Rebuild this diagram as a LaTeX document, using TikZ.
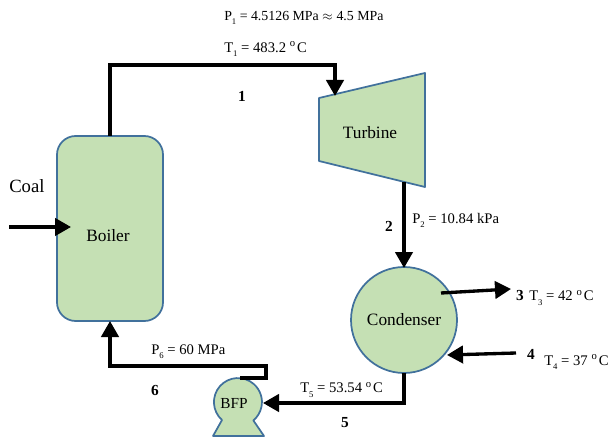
\documentclass[tikz,border=0pt]{standalone}
\usepackage{fontspec}
\setmainfont{Liberation Serif}
\usepackage{unicode-math}
\setmathfont{Latin Modern Math}
\setmathrm{Liberation Serif}
\usetikzlibrary{arrows.meta}
\definecolor{fillgreen}{RGB}{197,224,180}
\definecolor{edgeblue}{RGB}{65,113,156}
\newcommand{\sdeg}{\raisebox{0.75ex}{\footnotesize o}\kern1.5pt}
\newcommand{\lowsub}[1]{\raisebox{-0.6ex}{\fontsize{6.5}{7}\selectfont #1}}
\tikzset{
	unit/.style={draw=edgeblue,fill=fillgreen,line width=1.3pt},
	pipe/.style={draw=black,line width=2.5pt},
	flow/.style={pipe,-{Triangle[width=13pt,length=12pt]}},
	txt/.style={inner sep=0pt,font=\fontsize{11}{13}\selectfont},
	unittxt/.style={inner sep=0pt,font=\fontsize{13}{15}\selectfont},
	statenum/.style={inner sep=0pt,font=\fontsize{11.5}{13}\selectfont\bfseries}
}
\begin{document}
\begin{tikzpicture}[x=0.75pt,y=0.75pt,yscale=-1,xscale=1]
	\useasboundingbox (0,0) rectangle (609,438);
	% Boiler
	\node (boiler) [unit,rounded corners=14pt,minimum width=79.5pt,minimum height=138.75pt,inner sep=0pt] at (110,228.5) {};
	\node (boilerlabel) [unittxt] at (108,236) {Boiler};
	% Turbine
	\draw [unit,line join=round] (319,98) -- (425,73) -- (425,187) -- (319,161) -- cycle;
	\node (turbine) [unittxt] at (370,133) {Turbine};
	% Condenser
	\node (condenser) [unit,circle,minimum size=79.5pt,inner sep=0pt,unittxt] at (404,320) {Condenser};
	% BFP
	\draw [unit,line join=round] (222,420) arc[start angle=131.6,end angle=410,radius=24] -- (264,436) -- (213,436) -- cycle;
	\node (bfp) [inner sep=0pt,font=\fontsize{11.5}{13}\selectfont] at (234,403) {BFP};

	% Free ends
	\coordinate (boilerout) at (110,136);
	\coordinate (turbinein) at (335,96);
	\coordinate (turbineout) at (404,182);
	\coordinate (condin) at (404,268);
	\coordinate (condout) at (404,373);
	\coordinate (bfpin) at (263,403);
	\coordinate (bfpout) at (240,378);
	\coordinate (boilerin) at (110,321);
	\coordinate (coalstart) at (9,227);
	\coordinate (coalend) at (71,227);
	\coordinate (threestart) at (441,293);
	\coordinate (threeend) at (511,289);
	\coordinate (fourstart) at (516,353);
	\coordinate (fourend) at (447,355);

	% Pipes
	\draw [flow] (boilerout) |- (110,65) -| (turbinein);
	\draw [flow] (turbineout) -- (condin);
	\draw [flow] (condout) |- (bfpin);
	\draw [flow] (bfpout) -- (266,378) -- (266,366) -- (110,366) -- (boilerin);
	\draw [flow] (coalstart) -- (coalend);
	\draw [flow] (threestart) -- (threeend);
	\draw [flow] (fourstart) -- (fourend);

	% Text Node
	\node (pone) [txt,anchor=west,font=\fontsize{10.4}{13}\selectfont] at (224,18) {P\lowsub{1} = 4.5126 MPa $\approx$ 4.5 MPa};
	\node (tone) [txt,anchor=west] at (224,49) {T\lowsub{1} = 483.2 \sdeg C};
	\node (ptwo) [txt,anchor=west] at (412,220) {P\lowsub{2} = 10.84 kPa};
	\node (tthree) [txt,anchor=west] at (529,298) {T\lowsub{3} = 42 \sdeg C};
	\node (tfour) [txt,anchor=west] at (544,362) {T\lowsub{4} = 37 \sdeg C};
	\node (tfive) [txt,anchor=west] at (300,390) {T\lowsub{5} = 53.54 \sdeg C};
	\node (psix) [txt,anchor=west] at (151,352) {P\lowsub{6} = 60 MPa};
	\node (coal) [inner sep=0pt,font=\fontsize{14}{16}\selectfont,anchor=west] at (9,186) {Coal};

	% State numbers
	\node (one) [statenum] at (242,96) {1};
	\node (two) [statenum] at (389,226) {2};
	\node (three) [statenum] at (520,295) {3};
	\node (four) [statenum] at (531,354) {4};
	\node (five) [statenum] at (345,423) {5};
	\node (six) [statenum] at (155,390) {6};
\end{tikzpicture}
\end{document}
